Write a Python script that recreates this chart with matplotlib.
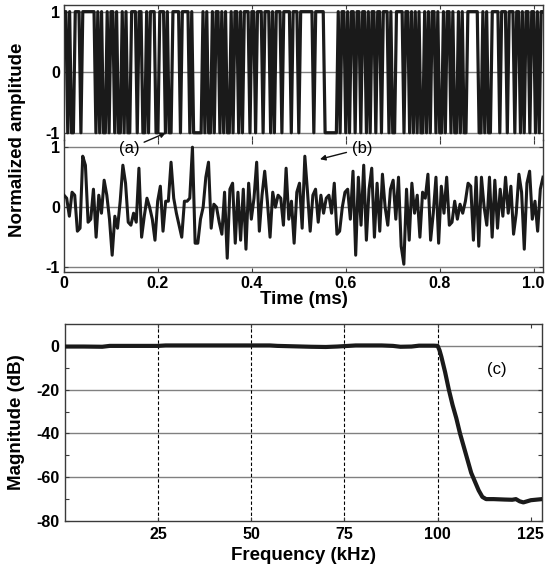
import numpy as np
import matplotlib
matplotlib.use("Agg")
import matplotlib.pyplot as plt

plt.rcParams['font.family'] = ['Liberation Sans', 'DejaVu Sans']

# ---- data ----
bits = ("1101001110" "1111111" "01010010110100101001" "1101100101" "1100111010"
        "0111101111" "0100000" "1010010110101001" "0110101110" "1101110111"
        "0101110111" "10111011" "1111101111" "10000000" "1011010110"
        "1101101011" "0110111010" "0111101101" "0101001010" "1101001011"
        "0100101001" "1111100101" "00111101" "1101110110" "1011011010" "11")
binary_signal = [1 if c == "1" else -1 for c in bits]

filtered_signal = [
    0.2, 0.15, -0.15, 0.25, 0.2, -0.4, -0.35, 0.85, 0.7, -0.25, -0.2, 0.3, -0.5, 0.2,
    -0.1, 0.45, 0.2, -0.2, -0.8, -0.15, -0.35, 0.1, 0.7, 0.4, -0.25, -0.3, -0.1, -0.25,
    0.65, -0.5, -0.15, 0.15, 0.0, -0.2, -0.55, 0.1, 0.35, -0.4, 0.1, 0.1, 0.75, 0.15,
    -0.1, -0.3, -0.5, 0.1, 0.1, 0.15, 1.0, -0.6, -0.6, -0.2, 0.0, 0.5, 0.75, -0.35,
    0.05, 0.0, -0.25, -0.45, 0.25, -0.85, 0.3, 0.4, -0.6, 0.25, -0.55, 0.3, -0.7, 0.4,
    -0.2, 0.15, 0.75, -0.4, 0.2, 0.6, 0.1, -0.5, 0.25, 0.0, 0.2, 0.15, -0.3, 0.65,
    -0.2, 0.1, -0.6, 0.25, 0.4, -0.35, 0.85, 0.25, -0.4, 0.2, 0.3, -0.25, 0.2, -0.1,
    0.15, 0.2, -0.1, 0.4, -0.45, -0.4, 0.0, 0.25, 0.3, -0.2, 0.6, -0.8, 0.5, -0.3,
    0.7, -0.55, 0.3, 0.65, -0.5, 0.4, -0.4, 0.55, 0.0, -0.3, 0.3, 0.45, -0.2, 0.5,
    -0.65, -0.95, 0.3, -0.55, 0.4, -0.1, 0.2, -0.5, 0.25, 0.15, 0.55, -0.55, -0.1, 0.5,
    -0.6, 0.35, -0.1, 0.5, -0.3, -0.25, 0.1, -0.2, 0.05, -0.1, 0.1, 0.4, 0.35, -0.55,
    0.5, -0.65, 0.5, 0.0, -0.3, 0.5, -0.5, 0.45, -0.35, 0.3, -0.15, 0.5, -0.1, 0.35,
    -0.45, -0.1, 0.55, 0.25, -0.7, 0.4, 0.6, -0.2, 0.1, -0.4, 0.3, 0.5,
]

freq_khz = [0, 5, 10, 12, 20, 25, 27, 40, 55, 57, 66, 70, 73, 78, 85, 88, 90, 93, 95,
            99, 100, 100.5, 101, 102, 103, 104, 105, 106, 107, 108, 109, 110, 111, 112,
            113, 115, 118, 120, 121, 122, 123, 124, 125, 128]
magnitude_db = [-0.3, -0.3, -0.4, 0, 0, 0, 0.2, 0.2, 0.2, 0, -0.4, -0.5, -0.3, 0.2, 0.2,
                0, -0.4, -0.3, 0.1, 0.1, 0, -2, -5, -12, -20, -27, -33, -40, -46, -52,
                -58, -62, -66, -69, -70, -70, -70.2, -70.3, -70, -71, -71.5, -71, -70.5, -70]

time_ticks = [0, 0.2, 0.4, 0.6, 0.8, 1.0]
time_ticklabels = ["0", "0.2", "0.4", "0.6", "0.8", "1.0"]
freq_ticks = [25, 50, 75, 100, 125]
db_ticks = [0, -20, -40, -60, -80]

# ---- figure ----
W, H = 545, 565
fig = plt.figure(figsize=(W / 100, H / 100), dpi=100)

def box(l, t, r, b):
    return [l / W, 1 - b / H, (r - l) / W, (b - t) / H]

ax_a = fig.add_axes(box(64, 5, 543, 140))
ax_b = fig.add_axes(box(64, 140, 543, 272))
ax_c = fig.add_axes(box(65, 324, 542, 521))

spine_col = "#3a3a3a"
grid_col = "#808080"
tfont = dict(fontsize=11.5, fontweight="bold")

t_a = np.linspace(0, 1.02, len(binary_signal))
t_b = np.linspace(0, 1.02, len(filtered_signal))

for ax in (ax_a, ax_b):
    ax.patch.set_visible(False)
    for y in (1, 0, -1):
        ax.axhline(y, color=grid_col, lw=1.0, zorder=1)
    ax.set_xlim(0, 1.02)
    ax.set_yticks([1, 0, -1])
    ax.set_yticklabels(["1", "0", "-1"], **tfont)
    ax.set_xticks(time_ticks)
    ax.tick_params(direction="in", length=3, width=0.8, top=True, right=True,
                   color=spine_col, pad=3)
    for s in ax.spines.values():
        s.set_color(spine_col)
        s.set_linewidth(1.0)

ax_a.plot(t_a, binary_signal, color="#1a1a1a", lw=2.3, zorder=3)
ax_a.set_ylim(-1.12, 1.11)
ax_a.set_xticklabels([])
ax_a.spines["bottom"].set_visible(False)

ax_b.plot(t_b, filtered_signal, color="#1a1a1a", lw=2.2, zorder=3)
ax_b.set_ylim(-1.08, 1.12)
ax_b.spines["top"].set_visible(False)
ax_b.set_xticklabels(time_ticklabels, **tfont)
ax_b.set_xlabel("Time (ms)", fontsize=13.5, fontweight="bold", labelpad=0)
ax_b.set_zorder(5)

fig.text(18 / W, 1 - 140 / H, "Normalized amplitude", rotation=90, ha="center",
         va="center", fontsize=13.5, fontweight="bold")

ax_b.annotate("(a)", xy=(0.217, 1.24), xytext=(0.14, 0.98), fontsize=12,
              ha="center", va="center", annotation_clip=False, zorder=10,
              arrowprops=dict(arrowstyle="-|>", color="#111111", lw=1.0,
                              shrinkA=1, shrinkB=0, mutation_scale=8))
ax_b.annotate("(b)", xy=(0.545, 0.80), xytext=(0.635, 0.98), fontsize=12,
              ha="center", va="center", zorder=10,
              arrowprops=dict(arrowstyle="-|>", color="#111111", lw=1.0,
                              shrinkA=2, shrinkB=0, mutation_scale=8))

# ---- panel c ----
for y in db_ticks[:-1]:
    ax_c.axhline(y, color=grid_col, lw=1.0, zorder=1)
for x in freq_ticks[:-1]:
    ax_c.axvline(x, color="black", lw=0.8, ls=(0, (3, 2)), zorder=1)
ax_c.plot(freq_khz, magnitude_db, color="#1a1a1a", lw=3.0, zorder=3,
          solid_capstyle="round")
ax_c.set_xlim(0, 128)
ax_c.set_ylim(-80, 10)
ax_c.set_xticks(freq_ticks)
ax_c.set_xticklabels([str(v) for v in freq_ticks], **tfont)
ax_c.set_yticks(db_ticks)
ax_c.set_yticklabels([str(v) for v in db_ticks], **tfont)
ax_c.set_yticks([-10, -30, -50, -70], minor=True)
ax_c.tick_params(which="both", direction="in", length=3, width=0.8, top=True,
                 right=True, color=spine_col, pad=4)
for s in ax_c.spines.values():
    s.set_color(spine_col)
    s.set_linewidth(1.0)
ax_c.set_xlabel("Frequency (kHz)", fontsize=13.5, fontweight="bold", labelpad=4)
ax_c.set_ylabel("Magnitude (dB)", fontsize=13.5, fontweight="bold", labelpad=8)
ax_c.text(116, -11, "(c)", fontsize=12, ha="center", va="center")

fig.savefig("out.png", dpi=100)
